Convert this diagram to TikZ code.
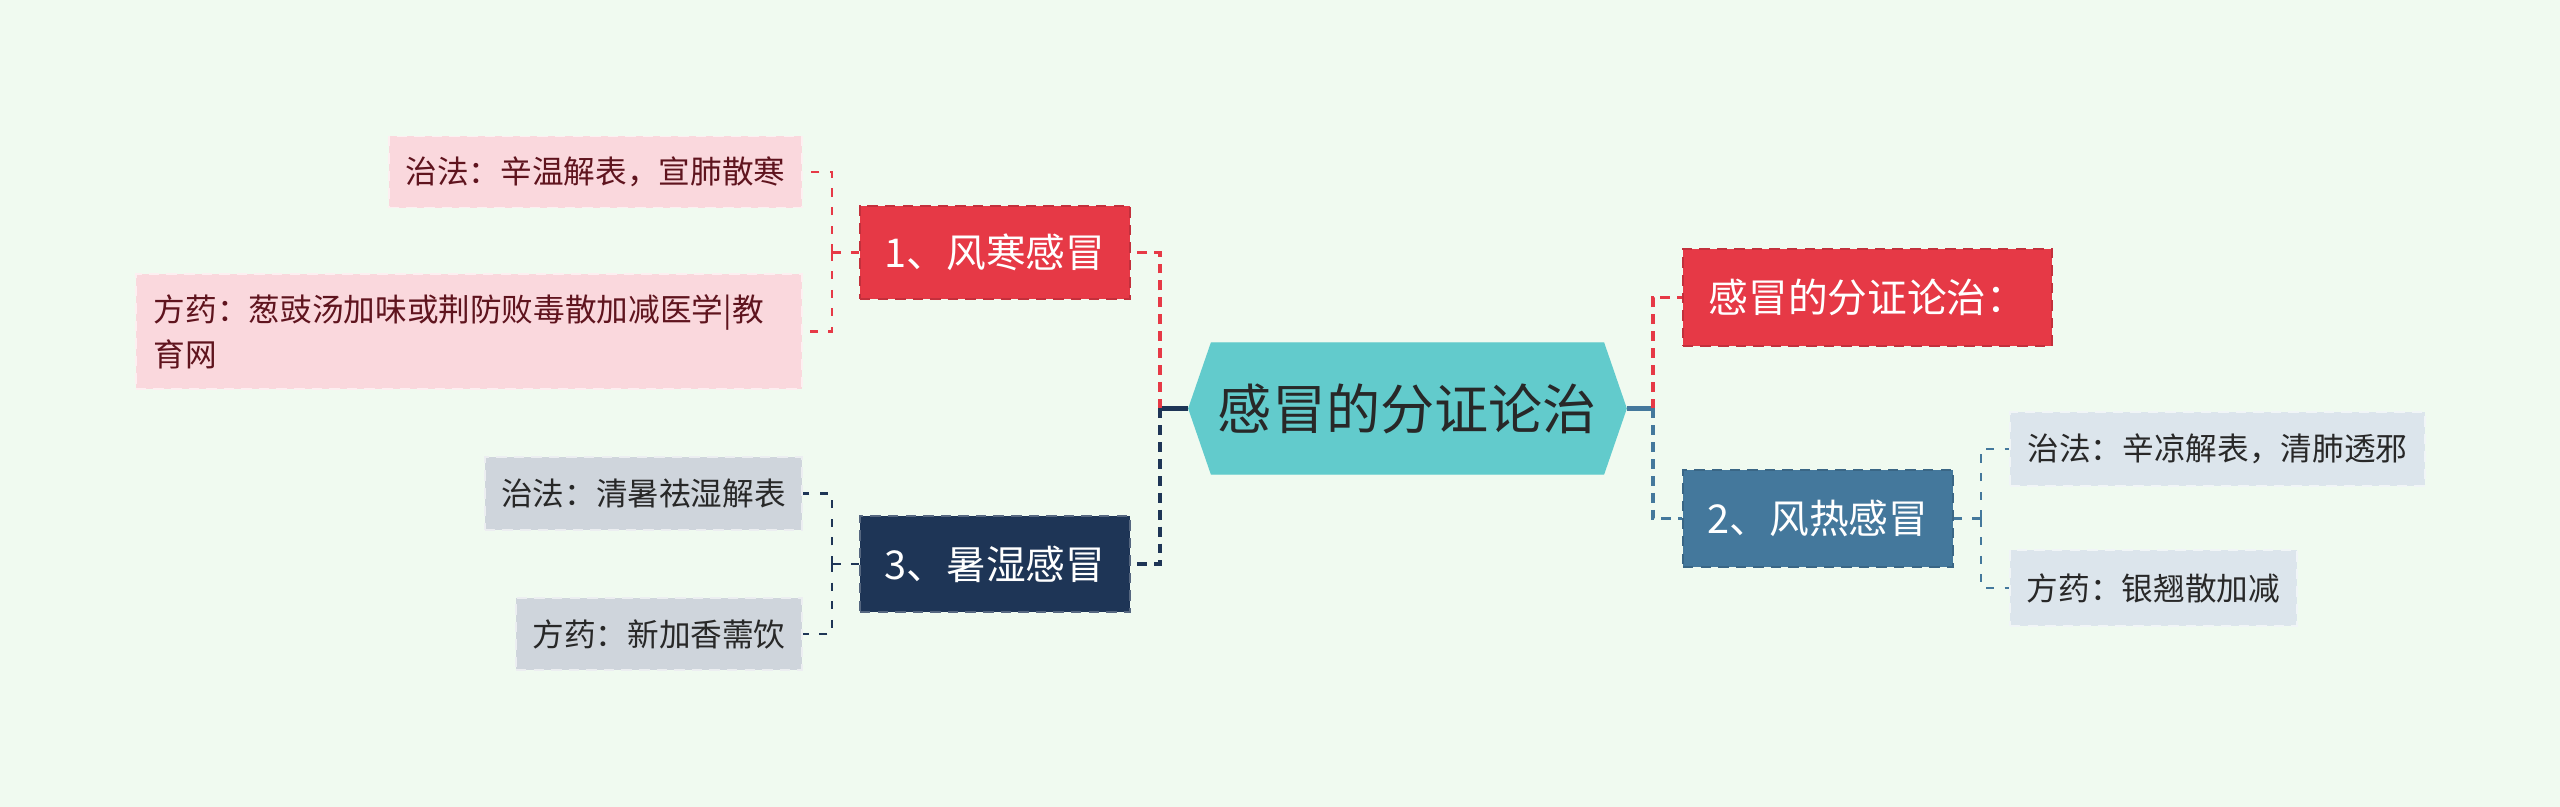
\documentclass[tikz,border=0pt]{standalone}
\usepackage{fontspec}
\setmainfont{Noto Sans CJK SC}
\usetikzlibrary{shapes.symbols}

\definecolor{bgmint}{RGB}{240,250,240}
\definecolor{rootteal}{RGB}{98,203,204}
\definecolor{branchred}{RGB}{230,57,70}
\definecolor{leafpink}{RGB}{250,216,221}
\definecolor{branchnavy}{RGB}{30,53,86}
\definecolor{branchsteel}{RGB}{68,120,156}
\definecolor{leafgray}{RGB}{207,213,220}
\definecolor{leafblue}{RGB}{220,229,236}
\definecolor{pinktext}{RGB}{95,20,30}
\definecolor{darktext}{RGB}{40,40,40}

\tikzset{
  box/.style={rectangle, inner sep=0pt, draw, densely dashed, line width=0.4pt},
  rootbox/.style={signal, signal to=west and east, signal pointer angle=142,
    fill=rootteal, draw=rootteal, inner sep=0pt, text=darktext,
    font=\fontsize{15.4}{18}\selectfont},
  redbox/.style={box, fill=branchred, draw=branchred!85!black, text=white,
    font=\fontsize{11.3}{14}\selectfont},
  navybox/.style={box, fill=branchnavy, draw=branchnavy!75!white, text=white,
    font=\fontsize{11.3}{14}\selectfont},
  steelbox/.style={box, fill=branchsteel, draw=branchsteel!85!black, text=white,
    font=\fontsize{11.3}{14}\selectfont},
  pinkleaf/.style={box, fill=leafpink, draw=white!60!leafpink, text=pinktext,
    font=\fontsize{9}{12.8}\selectfont},
  grayleaf/.style={box, fill=leafgray, draw=white!60!leafgray, text=darktext,
    font=\fontsize{9}{12.8}\selectfont},
  blueleaf/.style={box, fill=leafblue, draw=white!60!leafblue, text=darktext,
    font=\fontsize{9}{12.8}\selectfont},
  trunk/.style={line width=1.05pt, dash pattern=on 2.8pt off 2pt},
  twig/.style={line width=0.7pt, dash pattern=on 2.3pt off 3pt},
}

\begin{document}
\begin{tikzpicture}[x=0.01cm, y=-0.01cm]
  % background and page size
  \fill[bgmint] (0,0) rectangle (2560,807);
  \useasboundingbox (0,0) rectangle (2560,807);

  % centre
  \node[rootbox, minimum width=4.37cm, minimum height=1.31cm] (root) at (1407.5,408.5) {感冒的分证论治};

  % branches
  \node[redbox, minimum width=2.70cm, minimum height=0.93cm] (fenghan) at (995,252.5) {1、风寒感冒};
  \node[navybox, minimum width=2.70cm, minimum height=0.96cm] (shushi) at (995,564) {3、暑湿感冒};
  \node[redbox, minimum width=3.69cm, minimum height=0.97cm] (fenzheng) at (1867.5,297.5) {感冒的分证论治：};
  \node[steelbox, minimum width=2.70cm, minimum height=0.97cm] (fengre) at (1818,518.5) {2、风热感冒};

  % leaves
  \node[pinkleaf, minimum width=4.13cm, minimum height=0.71cm] (fhzhi) at (595.5,172) {治法：辛温解表，宣肺散寒};
  \node[pinkleaf, text width=6.30cm, inner xsep=0.18cm, minimum height=1.15cm, align=left] (fhyao) at (469,331.5)
    {方药：葱豉汤加味或荆防败毒散加减医学|教\\育网};
  \node[grayleaf, minimum width=3.17cm, minimum height=0.73cm] (sszhi) at (643.5,493.5) {治法：清暑祛湿解表};
  \node[grayleaf, minimum width=2.86cm, minimum height=0.72cm] (ssyao) at (659,634) {方药：新加香薷饮};
  \node[blueleaf, minimum width=4.15cm, minimum height=0.74cm] (frzhi) at (2217.5,449) {治法：辛凉解表，清肺透邪};
  \node[blueleaf, minimum width=2.87cm, minimum height=0.76cm] (fryao) at (2153.5,588) {方药：银翘散加减};

  % junctions
  \coordinate (lj) at (1160,408.5);
  \coordinate (rj) at (1653,408.5);
  \coordinate (fhj) at (832,252.5);
  \coordinate (ssj) at (832,564);
  \coordinate (frj) at (1981,518.5);

  % centre to branches
  \draw[branchnavy, line width=1.15pt] (root.west) -- (lj);
  \draw[branchsteel, line width=1.15pt] (root.east) -- (rj);
  \draw[trunk, branchred] (lj) |- (fenghan.east);
  \draw[trunk, branchnavy] (lj) |- (shushi.east);
  \draw[trunk, branchred] (rj) |- (fenzheng.west);
  \draw[trunk, branchsteel] (rj) |- (fengre.west);

  % branches to leaves
  \draw[twig, branchred] (fenghan.west) -- (fhj) (fhj) |- (fhzhi.east) (fhj) |- (fhyao.east);
  \draw[twig, branchnavy] (shushi.west) -- (ssj) (ssj) |- (sszhi.east) (ssj) |- (ssyao.east);
  \draw[twig, branchsteel] (fengre.east) -- (frj) (frj) |- (frzhi.west) (frj) |- (fryao.west);
\end{tikzpicture}
\end{document}
